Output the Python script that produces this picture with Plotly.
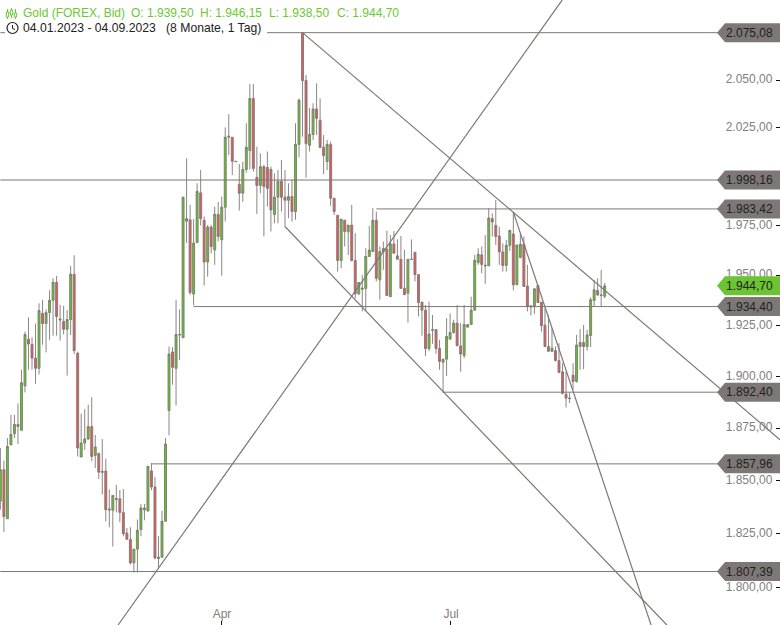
import math
import plotly.graph_objects as go

opens = [1840.3,1855.2,1832,1867,1872.3,1875.8,1874,1895.5,1918.3,1915.7,
1909,1904,1931,1926,1931.4,1937.5,1946.5,1928.3,1927,1923.2,
1928,1950.5,1911.4,1861.2,1867.9,1869.8,1875.8,1862,1863,1854.4,
1854.6,1836.6,1836,1841,1841.4,1835,1825.3,1822.3,1811.4,1817.8,
1826.9,1836.2,1835.6,1854.6,1847,1813.4,1814,1830.8,1883.5,1912,
1904,1920.3,1919,1977.2,1977.9,1940.6,1966.4,1991.6,1977.7,1956.6,
1974.2,1962.7,1980.7,1967.8,1984.3,2020.2,2020.2,2007.8,1996,1991.4,
2003.6,2013.3,2040.4,1999.5,1995.4,2005,2004.6,2003.6,1980.6,1989.4,
1997.5,1989.4,1987.8,1989.7,1982.1,2016.5,2075,2049.8,2016,2021.6,
2034.9,2029,2015,2007.6,2016.5,1988.9,1980.2,1957.4,1977.7,1971.8,
1975.2,1957.4,1940.7,1943,1943.4,1959.4,1961.9,1977.7,1947.7,1963.4,
1963.1,1939.3,1965.7,1959.7,1958,1943.5,1941,1958,1961.5,1950.3,
1936.6,1932.6,1913.7,1923,1923,1913.7,1907,1908.5,1918.3,1921.6,
1926.2,1915,1910.3,1924.2,1925.5,1932.6,1956.4,1960.2,1955,1954.7,
1978.6,1975.1,1969.7,1961.7,1954.9,1965,1970.7,1945.2,1958.9,1965.5,
1944.6,1934.8,1934.3,1944.9,1936.6,1925.2,1914.7,1912.3,1912.7,1907.8,
1902.3,1891.4,1889.6,1900.7,1897.6,1914.7,1916.7,1914.7,1920.1,1937.4,
1942.4,1940.2,1939.5]
highs = [1865.5,1859.5,1870.3,1881.5,1881.5,1887,1903.3,1922,1929,1919.3,
1926,1936,1937.7,1933,1942.5,1948.5,1949.7,1935.3,1934.8,1932.7,
1954.6,1960,1912.2,1882,1884.2,1886.3,1890,1871.8,1863,1869.8,
1860.5,1845.8,1843,1848,1845.5,1846,1827.7,1828,1817.8,1831.6,
1839,1839,1856.8,1858.4,1851.7,1823.8,1835.8,1870.3,1914.7,1914.4,
1937.7,1933,1989.4,2009.3,1985.5,1978.2,1996.5,2003.3,1979.6,1975.3,
1975.3,1984.6,1987,1989.7,2025.3,2032.1,2020.2,2007.8,2006.4,2007.6,
2027.4,2047.9,2047.9,2015.3,2011.9,2005.9,2012.8,2005,2001.6,2003.3,
2008.4,2003.3,1996.5,1998.5,2027.4,2040.4,2075.08,2052.7,2035.4,2037.9,
2048.3,2040.4,2021.4,2018.8,2017.9,1988.9,1980.2,1978.2,1977.9,1975.3,
1985.5,1971.1,1946.4,1950.2,1963.6,1974.8,1983.8,1982.1,1964.4,1966.9,
1972.4,1970.2,1972.2,1968,1969.7,1962.8,1958,1968,1961.5,1950.3,
1936.6,1935.2,1936.9,1930.2,1923,1918,1908.5,1928.6,1931,1927.8,
1935.2,1926.2,1935.2,1925.5,1939.3,1960.1,1963.5,1964.4,1970.2,1983.7,
1981.2,1988,1974.4,1966,1967.7,1972.7,1982,1965.2,1971,1969.4,
1955.2,1934.8,1943.5,1945.2,1936.6,1933.5,1930.2,1923.7,1914.7,1916.3,
1906.5,1902.4,1892.1,1906.5,1920.4,1923.2,1925.3,1922.9,1939,1947.7,
1948.5,1952.7,1946.15]
lows = [1836.3,1825.8,1832,1867,1870.3,1867.4,1874,1892.3,1903.3,1903.3,
1896.5,1901,1915.5,1911.8,1918,1920,1920,1917.6,1920.6,1900.5,
1920.4,1911,1861.5,1861.2,1864.7,1869.5,1859.2,1856,1850.8,1843.4,
1830.7,1828,1819,1835,1830.4,1823.8,1822.3,1810.6,1807,1807,
1823.8,1831.3,1835.6,1845.4,1813,1809,1813.7,1830.8,1871.5,1896,
1886,1908,1919,1966.1,1940.2,1935,1966.1,1975,1944.9,1949.3,
1961,1955.2,1967,1949.7,1977,2011,2000.7,2007.6,1982.6,1987,
2001.9,2003.6,2002.4,1980.9,1991.4,1969.5,1984.6,1972,1976.2,1976.2,
1982.1,1974.5,1978.7,1977,1977.9,2009.8,2020.5,1999.3,2012.8,2018.8,
2021.4,2014.5,2001.2,2003.3,1985,1980.4,1951.8,1953.5,1964.4,1960.2,
1956.9,1938.6,1940.2,1932,1932,1959.4,1961.9,1946.9,1937.8,1952.7,
1939.9,1939.3,1961,1958,1943.4,1940,1926.5,1957.9,1946.9,1929.5,
1920,1910.1,1912.5,1916,1911.2,1903.3,1892.1,1900.3,1918.3,1921,
1914.7,1902.4,1909,1924.2,1925.5,1932.3,1955.2,1951,1945.7,1954.7,
1969.4,1965.2,1955.2,1951.8,1951.8,1962.2,1942.4,1945.2,1958.5,1944.4,
1932,1930,1930.8,1936.1,1922,1914.4,1912.1,1912.3,1907.4,1902,
1891.4,1885,1887.2,1893.6,1897.1,1903.3,1903.6,1912.7,1914.4,1934.5,
1939.7,1934.5,1938.5]
closes = [1855.2,1833,1866.3,1872,1876.8,1876.8,1897,1920.6,1915.9,1909,
1904,1932.4,1926,1931.4,1937.5,1946.5,1929.5,1927.8,1923.2,1928,
1950.5,1912.7,1865.5,1867.9,1869.8,1875.8,1861.5,1866,1854,1854,
1836.3,1836.2,1843,1841.5,1835,1825,1822.4,1811.4,1817.8,1826.6,
1837.1,1837.1,1856.8,1847,1813.7,1814,1830.8,1867.4,1911,1904.5,
1920.6,1920.6,1989.4,1978.5,1941.4,1966.1,1992.4,1978.5,1956.6,1974.2,
1964.4,1980.7,1969.5,1984.3,2020.2,2020.7,2007.8,2007.6,1991.4,2003.6,
2015,2040.4,2004.1,1995.4,2005,1994.8,1993.9,1982.9,1989.4,1997.5,
1989.4,1987.8,1989.7,1982.1,2016.5,2039.5,2049.7,2016.9,2021.7,2034.9,
2030,2015,2010.7,2016.5,1988.9,1982.1,1957.4,1978.2,1972,1975.2,
1957.4,1940.7,1946.4,1943.5,1959.4,1962.6,1977.7,1948.5,1961.9,1961.8,
1939.9,1965.7,1961,1958,1943.4,1940.4,1958,1957.9,1950.3,1936.4,
1932.6,1913.7,1920.8,1922.7,1913.7,1907.4,1908.5,1919.6,1921.6,1926.2,
1915.2,1911,1925.5,1925.5,1932.6,1957.5,1960.5,1955.4,1954.7,1978.8,
1976.8,1969.4,1961.7,1954.9,1965,1972.6,1945.2,1965.2,1965.5,1944.4,
1934.5,1934.3,1943.2,1936.4,1925,1914.7,1912.4,1913.9,1907.8,1902,
1891.8,1889.5,1889.3,1897.6,1915.4,1916.7,1914.7,1920.4,1937.8,1942.7,
1940.2,1939.9,1944.7]

level_values = [2075.08,1998.16,1983.42,1934.40,1892.40,1857.96,1807.39]
level_labels = ["2.075,08","1.998,16","1.983,42","1.934,40","1.892,40","1.857,96","1.807,39"]
level_starts = [0,0,107,55,126,43,0]
last_value = 1944.70
last_label = "1.944,70"

trend_x = [[33.5,159.9],[86,221.9],[81,189.7],[146,185.2]]
trend_y = [[1782.8,2092.5],[2075.08,1869.5],[1974.5,1782.8],[1981.8,1782.8]]

y_ticks = [1800,1825,1850,1875,1900,1925,1950,1975,2000,2025,2050]
# the 2.000,00 label lies fully behind the 1.998,16 tag in the reference
y_tick_labels = ["1.800,00","1.825,00","1.850,00","1.875,00","1.900,00","1.925,00",
                 "1.950,00","1.975,00","","2.025,00","2.050,00"]
x_ticks = [62.8,128]
x_tick_labels = ["Apr","Jul"]

GRAY = "#7d7875"
GREEN = "#6cc832"
RED = "#f05454"
FONT = "Liberation Sans"
W, H = 780, 625
X_END = 221.9

fig = go.Figure()
fig.add_trace(go.Candlestick(
    x=list(range(len(opens))), open=opens, high=highs, low=lows, close=closes,
    increasing=dict(line=dict(color=GRAY, width=0.9), fillcolor="#5cc81e"),
    decreasing=dict(line=dict(color=GRAY, width=0.9), fillcolor=RED),
    whiskerwidth=0, showlegend=False, hoverinfo="skip"))
for v, s in zip(level_values, level_starts):
    fig.add_trace(go.Scatter(x=[s, X_END], y=[v, v], mode="lines",
                             line=dict(color=GRAY, width=1), showlegend=False, hoverinfo="skip"))
for xs, ys in zip(trend_x, trend_y):
    fig.add_trace(go.Scatter(x=xs, y=ys, mode="lines",
                             line=dict(color=GRAY, width=1.2), showlegend=False, hoverinfo="skip"))

def px(x): return x / W
def py(y): return 1 - y / H

shapes = []
shapes.append(dict(type="rect", xref="paper", yref="paper", x0=px(5), x1=px(267), y0=py(21), y1=py(38),
                   fillcolor="white", line=dict(width=0), layer="above"))
shapes.append(dict(type="circle", xref="paper", yref="paper", x0=px(7), x1=px(18), y0=py(22.5), y1=py(33.5),
                   fillcolor="white", line=dict(color="#222222", width=1.2), layer="above"))
shapes.append(dict(type="path", xref="paper", yref="paper",
                   path=f"M {px(12.5)} {py(25)} L {px(12.5)} {py(28.5)} L {px(15)} {py(29.5)}",
                   line=dict(color="#222222", width=1), layer="above"))
for cx, t, b, bt, bb in [(7.5,9,19,12,17),(11.5,8,18,10,15),(15.5,9,19,13,17)]:
    shapes.append(dict(type="line", xref="paper", yref="paper", x0=px(cx), x1=px(cx), y0=py(t), y1=py(b),
                       line=dict(color=GREEN, width=1), layer="above"))
    shapes.append(dict(type="rect", xref="paper", yref="paper", x0=px(cx-1.2), x1=px(cx+1.2), y0=py(bt), y1=py(bb),
                       fillcolor="white", line=dict(color=GREEN, width=1), layer="above"))

def tag(value, color):
    return dict(type="path", xref="paper", yref="y", xsizemode="pixel", ysizemode="pixel",
                xanchor=1, yanchor=value,
                path="M -63 0 L -55 9.5 L 0 9.5 L 0 -9.5 L -55 -9.5 Z",
                fillcolor=color, line=dict(width=0), layer="above")

for v in level_values:
    shapes.append(tag(v, GRAY))
shapes.append(tag(last_value, "#6cc432"))

annotations = []
for v, t in list(zip(level_values, level_labels)) + [(last_value, last_label)]:
    annotations.append(dict(text=t, xref="paper", yref="y", x=px(775), y=math.log10(v),
                            xanchor="right", yanchor="middle", showarrow=False,
                            font=dict(family=FONT, size=12, color="#222222")))
for t, x in [("Gold (FOREX, Bid)",23),("O: 1.939,50",131),("H: 1.946,15",200),("L: 1.938,50",269),("C: 1.944,70",337)]:
    annotations.append(dict(text=t, xref="paper", yref="paper", x=px(x), y=py(12.5), xanchor="left",
                            yanchor="middle", showarrow=False, xshift=-2,
                            font=dict(family=FONT, size=12, color=GREEN)))
for t, x in [("04.01.2023 - 04.09.2023",23),("(8 Monate, 1 Tag)",166)]:
    annotations.append(dict(text=t, xref="paper", yref="paper", x=px(x), y=py(28.5), xanchor="left",
                            yanchor="middle", showarrow=False, xshift=-2,
                            font=dict(family=FONT, size=12.2, color="#222222")))

fig.update_layout(
    width=W, height=H, margin=dict(l=0, r=0, t=0, b=0),
    paper_bgcolor="white", plot_bgcolor="white", boxgap=0.2, showlegend=False,
    shapes=shapes, annotations=annotations, dragmode=False,
    xaxis=dict(range=[-0.11, X_END], rangeslider=dict(visible=False), showgrid=False, zeroline=False,
               showline=False, tickmode="array", tickvals=x_ticks, ticktext=x_tick_labels,
               ticks="inside", ticklen=4, tickcolor="#111111", ticklabelposition="inside",
               ticklabelshift=1,
               tickfont=dict(family=FONT, size=12, color="#808080")),
    yaxis=dict(type="log", range=[3.2511, 3.32067], side="right", showgrid=False, zeroline=False,
               showline=False, tickmode="array", tickvals=y_ticks, ticktext=y_tick_labels,
               ticks="inside", ticklen=4, tickcolor="#111111", ticklabelposition="inside",
               ticklabelstandoff=3, ticklabelshift=-1,
               tickfont=dict(family=FONT, size=12, color="#808080")),
)
fig.write_html("out.html", config=dict(displayModeBar=False),
               post_script="document.body.style.margin='0';document.body.style.overflow='hidden';")
